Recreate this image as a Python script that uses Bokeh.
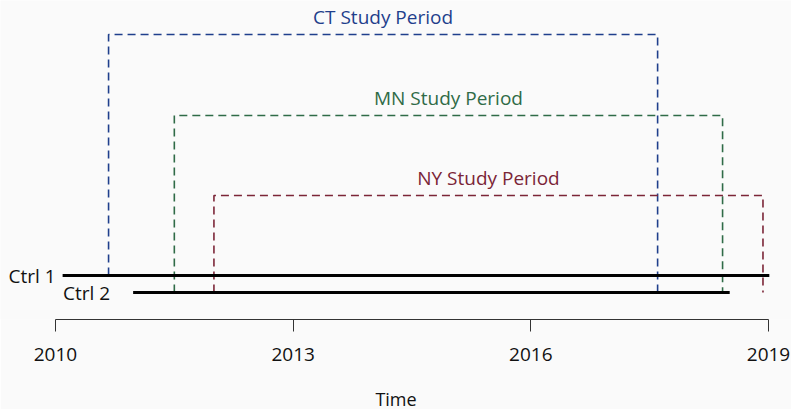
from bokeh.plotting import figure
from bokeh.models import Range1d, FixedTicker, ColumnDataSource
from bokeh.core.properties import value
from bokeh.embed import file_html
from bokeh.resources import INLINE

# ---- data ----
tick_years = [2010, 2013, 2016, 2019]

ctrl_names = ["Ctrl 1", "Ctrl 2"]
ctrl_start = [2010.09, 2010.98]
ctrl_end = [2019.01, 2018.51]
ctrl_level = [44, 27]

period_names = ["CT Study Period", "MN Study Period", "NY Study Period"]
period_start = [2010.67, 2011.50, 2012.00]
period_end = [2017.60, 2018.42, 2018.93]
period_top = [285, 204, 124]
period_left_bottom = [44, 27, 27]
period_right_bottom = [27, 27, 27]
period_colors = ["#1f3f8c", "#2f6b47", "#7b2537"]

BG = "#fafafa"
FONT = "Open Sans"

p = figure(width=791, frame_width=791, frame_height=319,
           x_range=Range1d(2009.306, 2019.29), y_range=Range1d(0, 319),
           output_backend="svg", toolbar_location=None,
           y_axis_location=None, min_border_left=0, min_border_right=0,
           min_border_top=0, min_border_bottom=0,
           background_fill_color=BG, border_fill_color=BG)
p.outline_line_color = None
p.grid.visible = False

ax = p.xaxis[0]
ax.ticker = FixedTicker(ticks=tick_years)
ax.bounds = (tick_years[0], tick_years[-1])
ax.axis_line_color = "#333333"
ax.major_tick_line_color = "#333333"
ax.major_tick_out = 12
ax.major_tick_in = 0
ax.minor_tick_out = 0
ax.minor_tick_in = 0
ax.major_label_text_font = FONT
ax.major_label_text_font_size = "19px"
ax.major_label_text_color = "#111111"
ax.major_label_standoff = 16
ax.axis_label = "Time"
ax.axis_label_text_font = FONT
ax.axis_label_text_font_size = "18px"
ax.axis_label_text_font_style = "normal"
ax.axis_label_text_color = "#111111"
ax.axis_label_standoff = 23

# study period boxes (dashed, open at the bottom)
xs = [[s, s, e, e] for s, e in zip(period_start, period_end)]
ys = [[lb, t, t, rb] for lb, t, rb in zip(period_left_bottom, period_top, period_right_bottom)]
psrc = ColumnDataSource(dict(xs=xs, ys=ys, color=period_colors, name=period_names,
                             xc=[(s + e) / 2 for s, e in zip(period_start, period_end)],
                             top=period_top))
p.multi_line("xs", "ys", source=psrc, line_color="color", line_width=1.6,
             line_dash="8 5")
p.text("xc", "top", text="name", source=psrc, text_color="color",
       text_font=value(FONT), text_font_size="19px", text_align="center",
       text_baseline="middle", y_offset=-18)

# control lines
csrc = ColumnDataSource(dict(x0=ctrl_start, x1=ctrl_end, y=ctrl_level,
                             name=ctrl_names, off=[-7, -23]))
p.segment("x0", "y", "x1", "y", source=csrc, line_color="black", line_width=3.2)
p.text("x0", "y", text="name", source=csrc, x_offset="off", text_color="#111111",
       text_font=value(FONT), text_font_size="19px", text_align="right",
       text_baseline="middle")

html = file_html(p, INLINE)
html = html.replace("<body>", '<body style="background:%s">' % BG, 1)
open("out.html", "w").write(html)
